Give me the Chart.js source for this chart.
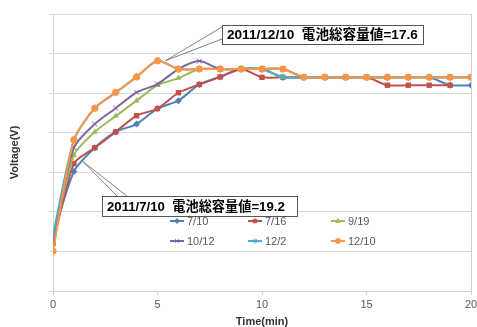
<!DOCTYPE html>
<html>
<head>
<meta charset="utf-8">
<script src="https://cdn.jsdelivr.net/npm/chart.js@4.4.1/dist/chart.umd.min.js"></script>
<style>
  html, body { margin: 0; padding: 0; background: #fff; }
  #chart { display: block; }
</style>
</head>
<body>
<canvas id="chart" width="477" height="327"></canvas>
<script>
// Time axis (minutes)
const times = [0, 1, 2, 3, 4, 5, 6, 7, 8, 9, 10, 11, 12, 13, 14, 15, 16, 17, 18, 19, 20];

// Series labels
const seriesNames = ['7/10', '7/16', '9/19', '10/12', '12/2', '12/10'];

// Voltage readings per series (axis values are hidden in the original)
const v0710 = [1.38, 3.02, 3.62, 4.02, 4.22, 4.61, 4.81, 5.22, 5.41, 5.61, 5.61, 5.40, 5.40, 5.40, 5.40, 5.40, 5.40, 5.40, 5.40, 5.20, 5.20];
const v0716 = [1.20, 3.22, 3.62, 4.02, 4.43, 4.61, 5.01, 5.22, 5.41, 5.61, 5.40, 5.40, 5.40, 5.40, 5.40, 5.40, 5.20, 5.20, 5.20, 5.20, null];
const v0919 = [1.30, 3.43, 4.02, 4.42, 4.81, 5.20, 5.38, 5.61, 5.61, 5.61, 5.61, 5.40, 5.40, 5.40, 5.40, 5.40, 5.40, 5.40, 5.40, 5.40, 5.40];
const v1012 = [1.25, 3.62, 4.22, 4.62, 5.02, 5.23, 5.61, 5.81, 5.61, 5.61, 5.61, 5.61, 5.40, 5.40, 5.40, 5.40, 5.40, 5.40, 5.40, 5.40, 5.40];
const v1202 = [1.41, 3.81, 4.62, 5.01, 5.41, 5.82, 5.61, 5.61, 5.61, 5.61, 5.61, 5.40, 5.40, 5.40, 5.40, 5.40, 5.40, 5.40, 5.40, 5.40, 5.40];
const v1210 = [1.01, 3.82, 4.62, 5.02, 5.41, 5.82, 5.61, 5.61, 5.61, 5.61, 5.61, 5.61, 5.40, 5.40, 5.40, 5.40, 5.40, 5.40, 5.40, 5.40, 5.40];

const xTicks = [0, 5, 10, 15, 20];

// Excel 2007 palette
const colors = ['#4F81BD', '#C0504D', '#9BBB59', '#8064A2', '#4BACC6', '#F79646'];
const markers = ['rectRot', 'rect', 'triangle', 'crossRot', 'star', 'circle'];
const allValues = [v0710, v0716, v0919, v1012, v1202, v1210];

// Callout notes
const callouts = [
  { text: '2011/12/10  電池総容量値=17.6', series: 5, index: 5, box: [222, 25, 201, 19], base: [[222, 27], [222, 39]], dx: 8, dy: 0, size: 13.6 },
  { text: '2011/7/10  電池総容量値=19.2', series: 0, index: 1, box: [102, 196, 195, 20], base: [[117, 196], [127, 196]], dx: 9, dy: -10, size: 13.2 }
];

Chart.defaults.font.family = "'Liberation Sans', 'Noto Sans CJK JP', sans-serif";
Chart.defaults.color = '#595959';

const datasets = allValues.map((vals, i) => ({
  label: seriesNames[i],
  data: times.map((t, k) => ({ x: t, y: vals[k] })),
  borderColor: colors[i],
  backgroundColor: colors[i],
  pointStyle: markers[i],
  pointRadius: markers[i] === 'rect' ? 3.8 : 3.5,
  pointBorderWidth: markers[i] === 'crossRot' || markers[i] === 'star' ? 1 : 0,
  borderWidth: 2,
  tension: 0.25,
  spanGaps: false,
  order: allValues.length - i
}));

// legend + callouts + right border
const decorPlugin = {
  id: 'decor',
  afterDatasetsDraw(chart) {
    const { ctx, chartArea } = chart;
    ctx.save();
    // right plot border
    ctx.strokeStyle = '#d0d0d0';
    ctx.lineWidth = 1;
    ctx.beginPath();
    ctx.moveTo(Math.round(chartArea.right) + 0.5, chartArea.top);
    ctx.lineTo(Math.round(chartArea.right) + 0.5, chartArea.bottom);
    ctx.stroke();

    // legend, 3 columns x 2 rows
    const cols = [170, 248, 331];
    const rows = [221, 241];
    ctx.font = "11px 'Liberation Sans', sans-serif";
    ctx.textBaseline = 'middle';
    ctx.textAlign = 'left';
    seriesNames.forEach((name, i) => {
      const x = cols[i % 3], y = rows[Math.floor(i / 3)];
      ctx.strokeStyle = colors[i];
      ctx.lineWidth = 2;
      ctx.beginPath();
      ctx.moveTo(x, y);
      ctx.lineTo(x + 14, y);
      ctx.stroke();
      ctx.fillStyle = colors[i];
      ctx.lineWidth = 1;
      Chart.helpers.drawPoint(ctx, { pointStyle: markers[i], radius: 2.5, rotation: 0, borderWidth: 1 }, x + 7, y);
      ctx.fillStyle = '#595959';
      ctx.fillText(name, x + 17, y + 0.5);
    });

    // callouts
    callouts.forEach(c => {
      const pt = chart.getDatasetMeta(c.series).data[c.index];
      const tx = pt.x + c.dx, ty = pt.y + c.dy;
      ctx.fillStyle = '#fff';
      ctx.strokeStyle = '#808080';
      ctx.lineWidth = 1;
      ctx.beginPath();
      ctx.moveTo(c.base[0][0], c.base[0][1]);
      ctx.lineTo(tx, ty);
      ctx.lineTo(c.base[1][0], c.base[1][1]);
      ctx.closePath();
      ctx.fill();
      ctx.beginPath();
      ctx.moveTo(c.base[0][0], c.base[0][1]);
      ctx.lineTo(tx, ty);
      ctx.lineTo(c.base[1][0], c.base[1][1]);
      ctx.stroke();
      const [bx, by, bw, bh] = c.box;
      ctx.fillStyle = '#fff';
      ctx.fillRect(bx, by, bw, bh);
      ctx.strokeStyle = '#555';
      ctx.strokeRect(bx + 0.5, by + 0.5, bw, bh);
      ctx.fillStyle = '#000';
      ctx.font = "bold " + c.size + "px 'Liberation Sans', 'Noto Sans CJK JP', sans-serif";
      ctx.textAlign = 'left';
      ctx.textBaseline = 'middle';
      ctx.fillText(c.text, bx + 5, by + bh / 2 + 1);
    });
    ctx.restore();
  }
};

new Chart(document.getElementById('chart'), {
  type: 'line',
  data: { datasets },
  options: {
    responsive: false,
    animation: false,
    layout: { padding: { top: 14, right: 6, left: 0, bottom: 0 } },
    plugins: {
      legend: { display: false },
      tooltip: { enabled: false }
    },
    scales: {
      x: {
        type: 'linear',
        min: 0,
        max: 20,
        afterBuildTicks: s => { s.ticks = xTicks.map(v => ({ value: v })); },
        afterFit: s => { s.height = 36; s.paddingLeft = 0; s.paddingRight = 0; },
        grid: { drawOnChartArea: false, drawTicks: true, tickLength: 4, color: '#d0d0d0' },
        border: { display: true, color: '#d0d0d0' },
        ticks: { font: { size: 11 }, padding: 3, maxRotation: 0 },
        title: {
          display: true,
          text: 'Time(min)',
          color: '#333',
          font: { size: 11, weight: 'bold', lineHeight: 1 },
          padding: { top: 0, bottom: 0 }
        }
      },
      y: {
        min: 0,
        max: 7,
        afterFit: s => { s.width = 53; },
        ticks: { stepSize: 1, display: false },
        grid: { color: '#d9d9d9', drawTicks: true, tickLength: 4 },
        border: { display: true, color: '#d0d0d0' },
        title: {
          display: true,
          text: 'Voltage(V)',
          color: '#333',
          font: { size: 11, weight: 'bold' },
          padding: { top: 8, bottom: 0 }
        }
      }
    }
  },
  plugins: [decorPlugin]
});
</script>
</body>
</html>
